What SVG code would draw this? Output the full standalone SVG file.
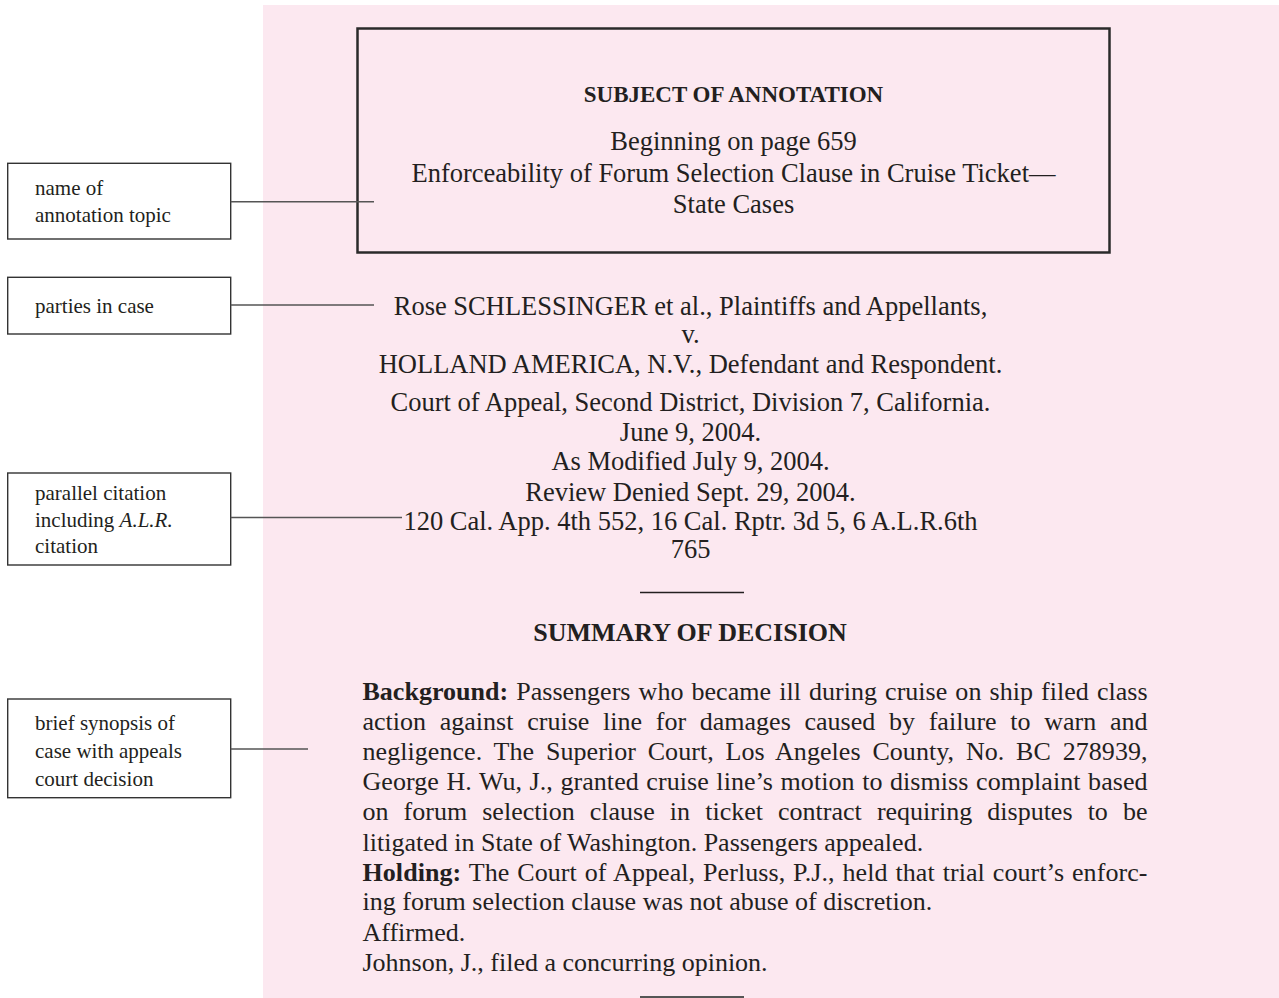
<svg xmlns="http://www.w3.org/2000/svg" width="1279" height="998" viewBox="0 0 1279 998">
<style>
.lbl{font-family:"Liberation Serif","Times New Roman",serif;font-size:21px;fill:#231f20}
.lbox{fill:#fff;stroke:#333;stroke-width:1.4}
.main{font-family:"Liberation Serif","Times New Roman",serif;font-size:26.5px;fill:#231f20;text-anchor:middle}
.hd{font-family:"Liberation Serif","Times New Roman",serif;font-weight:bold;fill:#231f20;text-anchor:middle}
.para{font-family:"Liberation Serif","Times New Roman",serif;font-size:26px;fill:#231f20}
.conn{stroke:#555;stroke-width:1.4;fill:none}
</style>
<rect x="0" y="0" width="1279" height="998" fill="#fff"/>
<rect x="263" y="5" width="1016" height="993" fill="#fce8f0"/>

<g id="subject-box">
<rect x="357.5" y="28.5" width="752" height="224" fill="none" stroke="#2a2a2a" stroke-width="2.5"/>
<text class="hd" x="733.5" y="102" font-size="23">SUBJECT OF ANNOTATION</text>
<text class="main" x="733.5" y="150" font-size="27">Beginning on page 659</text>
<text class="main" x="733.5" y="181.5" font-size="27">Enforceability of Forum Selection Clause in Cruise Ticket—</text>
<text class="main" x="733.5" y="213" font-size="27">State Cases</text>
</g>

<g id="case-header">
<text class="main" x="690.5" y="315">Rose SCHLESSINGER et al., Plaintiffs and Appellants,</text>
<text class="main" x="690.5" y="343">v.</text>
<text class="main" x="690.5" y="372.5">HOLLAND AMERICA, N.V., Defendant and Respondent.</text>
<text class="main" x="690.5" y="410.5">Court of Appeal, Second District, Division 7, California.</text>
<text class="main" x="690.5" y="440.5">June 9, 2004.</text>
<text class="main" x="690.5" y="469.5">As Modified July 9, 2004.</text>
<text class="main" x="690.5" y="500.5">Review Denied Sept. 29, 2004.</text>
<text class="main" x="690.5" y="530">120 Cal. App. 4th 552, 16 Cal. Rptr. 3d 5, 6 A.L.R.6th</text>
<text class="main" x="690.5" y="558">765</text>
<line x1="640" y1="592.5" x2="744" y2="592.5" stroke="#231f20" stroke-width="1.5"/>
</g>

<g id="summary">
<text class="hd" x="690" y="641" font-size="26">SUMMARY OF DECISION</text>
<text class="para" x="362.5" y="700" word-spacing="1.6" textLength="785" lengthAdjust="spacing"><tspan font-weight="bold">Background:</tspan> Passengers who became ill during cruise on ship filed class</text>
<text class="para" x="362.5" y="730" word-spacing="7.2" textLength="785" lengthAdjust="spacing">action against cruise line for damages caused by failure to warn and</text>
<text class="para" x="362.5" y="760" word-spacing="5.2" textLength="785" lengthAdjust="spacing">negligence. The Superior Court, Los Angeles County, No. BC 278939,</text>
<text class="para" x="362.5" y="790" word-spacing="1" textLength="785" lengthAdjust="spacing">George H. Wu, J., granted cruise line’s motion to dismiss complaint based</text>
<text class="para" x="362.5" y="820" word-spacing="8.6" textLength="785" lengthAdjust="spacing">on forum selection clause in ticket contract requiring disputes to be</text>
<text class="para" x="362.5" y="850.5">litigated in State of Washington. Passengers appealed.</text>
<text class="para" x="362.5" y="880.5" word-spacing="1.3" textLength="785" lengthAdjust="spacing"><tspan font-weight="bold">Holding:</tspan> The Court of Appeal, Perluss, P.J., held that trial court’s enforc-</text>
<text class="para" x="362.5" y="910">ing forum selection clause was not abuse of discretion.</text>
<text class="para" x="362.5" y="941">Affirmed.</text>
<text class="para" x="362.5" y="971">Johnson, J., filed a concurring opinion.</text>
<rect x="640" y="996" width="104" height="2" fill="#555"/>
</g>

<g id="label-topic">
<rect class="lbox" x="7.7" y="163.3" width="223" height="75.7"/>
<text class="lbl" x="35" y="195">name of</text>
<text class="lbl" x="35" y="221.7">annotation topic</text>
</g>
<g id="label-parties">
<rect class="lbox" x="7.7" y="277.3" width="223" height="56.7"/>
<text class="lbl" x="35" y="313.3">parties in case</text>
</g>
<g id="label-citation">
<rect class="lbox" x="7.7" y="473" width="223" height="92"/>
<text class="lbl" x="35" y="500">parallel citation</text>
<text class="lbl" x="35" y="526.7">including <tspan font-style="italic">A.L.R.</tspan></text>
<text class="lbl" x="35" y="553.3">citation</text>
</g>
<g id="label-synopsis">
<rect class="lbox" x="7.7" y="699" width="223" height="98.7"/>
<text class="lbl" x="35" y="730">brief synopsis of</text>
<text class="lbl" x="35" y="758">case with appeals</text>
<text class="lbl" x="35" y="786">court decision</text>
</g>

<g id="connectors">
<line class="conn" x1="230.7" y1="201.7" x2="374" y2="201.7"/>
<line class="conn" x1="230.7" y1="305" x2="374" y2="305"/>
<line class="conn" x1="230.7" y1="517.5" x2="402" y2="517.5"/>
<line class="conn" x1="230.7" y1="749" x2="308" y2="749"/>
</g>
</svg>
